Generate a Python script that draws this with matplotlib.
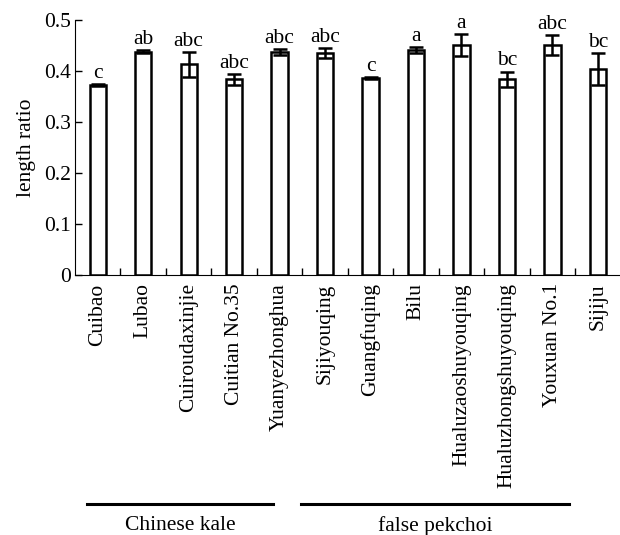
import matplotlib
matplotlib.use("Agg")
import matplotlib.pyplot as plt
import matplotlib.transforms as mtransforms
import numpy as np

cultivars = ["Cuibao", "Lubao", "Cuiroudaxinjie", "Cuitian No.35", "Yuanyezhonghua",
             "Sijiyouqing", "Guangfuqing", "Bilu", "Hualuzaoshuyouqing",
             "Hualuzhongshuyouqing", "Youxuan No.1", "Sijiju"]
ratio = [0.372, 0.438, 0.413, 0.384, 0.438, 0.436, 0.387, 0.441, 0.451, 0.384, 0.451, 0.404]
err = [0.002, 0.003, 0.025, 0.011, 0.006, 0.010, 0.002, 0.0065, 0.022, 0.015, 0.020, 0.031]
letters = ["c", "ab", "abc", "abc", "abc", "abc", "c", "a", "a", "bc", "abc", "bc"]
groups = ["Chinese kale", "false pekchoi"]

FS = 15.5
plt.rcParams["font.family"] = ["Liberation Serif", "DejaVu Serif"]
plt.rcParams["font.size"] = FS

fig = plt.figure(figsize=(6.2, 5.35), dpi=100)
ax = fig.add_axes([0.121, 0.486, 0.88, 0.4766])

x = np.arange(len(cultivars))
ax.bar(x, ratio, width=0.36, color="white", edgecolor="black", linewidth=1.8, zorder=2)
ax.errorbar(x, ratio, yerr=err, fmt="none", ecolor="black", elinewidth=1.8,
            capsize=5, capthick=1.8, zorder=3)
for xi, v, e, t in zip(x, ratio, err, letters):
    ax.text(xi, v + e + 0.002, t, ha="center", va="bottom", fontsize=FS)

ax.set_xlim(-0.5, len(cultivars) - 0.5)
ax.set_ylim(0, 0.5)
ax.set_yticks([0, 0.1, 0.2, 0.3, 0.4, 0.5])
ax.set_yticklabels(["0", "0.1", "0.2", "0.3", "0.4", "0.5"])
ax.set_xticks(x)
ax.set_xticklabels(cultivars, rotation=90, va="top", ha="center")
ax.tick_params(axis="x", length=0, pad=6)
ax.set_xticks(np.arange(0.5, len(cultivars) - 0.5, 1), minor=True)
ax.tick_params(axis="x", which="minor", direction="in", length=5, width=1)
ax.tick_params(axis="y", direction="in", length=5, width=1, pad=3)
ax.spines["top"].set_visible(False)
ax.spines["right"].set_visible(False)
ax.set_ylabel("length ratio", fontsize=FS, labelpad=6)

# group brackets below the labels
trans = mtransforms.blended_transform_factory(ax.transData, fig.transFigure)
spans = [(-0.24, 3.85), (4.46, 10.37)]
for (x0, x1), g in zip(spans, groups):
    ax.plot([x0, x1], [1 - 504 / 535] * 2, color="black", linewidth=2.2,
            transform=trans, clip_on=False)
    ax.text((x0 + x1) / 2, 1 - 526 / 535, g, ha="center", va="center",
            fontsize=FS, transform=trans)

fig.savefig("out.png", dpi=100)
